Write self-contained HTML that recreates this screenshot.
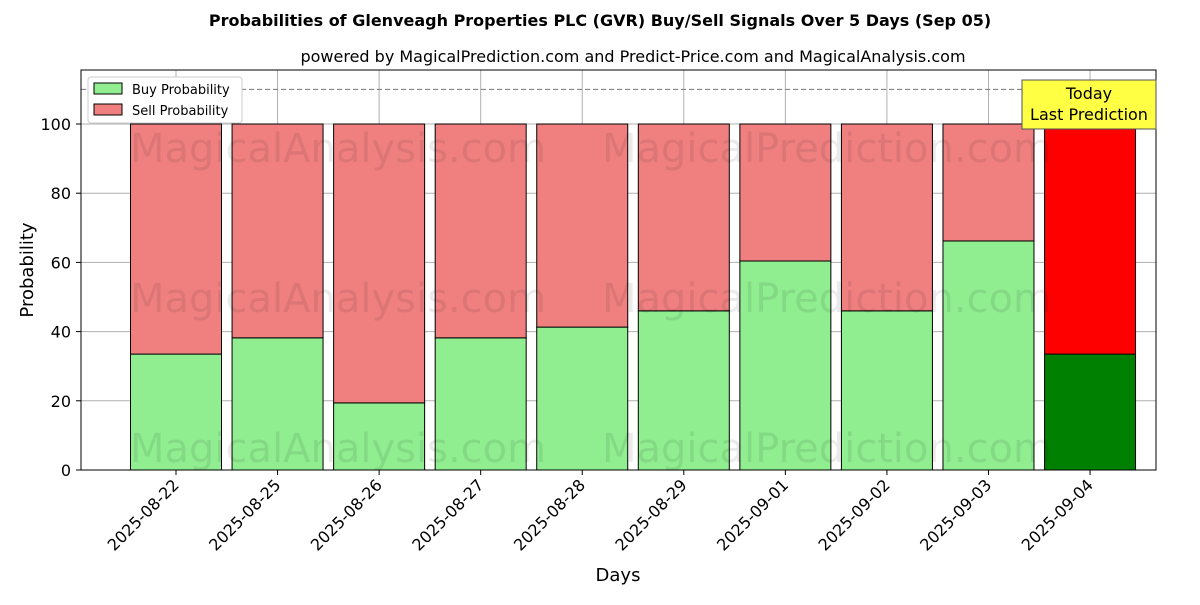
<!DOCTYPE html>
<html><head><meta charset="utf-8"><style>
body{margin:0;background:#fff;}
svg{font-family:"DejaVu Sans","Liberation Sans",sans-serif;}
</style></head><body>
<svg id="chart" width="1200" height="600">
<text x="600" y="26" text-anchor="middle" font-weight="bold" font-size="16">Probabilities of Glenveagh Properties PLC (GVR) Buy/Sell Signals Over 5 Days (Sep 05)</text>
<text x="633" y="62" text-anchor="middle" font-size="16">powered by MagicalPrediction.com and Predict-Price.com and MagicalAnalysis.com</text>
<g id="grid"></g>
<g id="bars"></g>
<g id="wm" fill="#000" opacity="0.08" font-size="40">
<text x="130" y="162">MagicalAnalysis.com</text><text x="602" y="162">MagicalPrediction.com</text>
<text x="130" y="312">MagicalAnalysis.com</text><text x="602" y="312">MagicalPrediction.com</text>
<text x="130" y="462">MagicalAnalysis.com</text><text x="602" y="462">MagicalPrediction.com</text>
</g>
<line x1="81" x2="1156" y1="89.4" y2="89.4" stroke="#777" stroke-dasharray="5,3"/>
<rect x="81" y="70" width="1075" height="400" fill="none" stroke="#000"/>
<g id="axes"></g>
<text x="33" y="270" transform="rotate(-90 33 270)" text-anchor="middle" font-size="18">Probability</text>
<text x="618" y="581" text-anchor="middle" font-size="18">Days</text>
<g>
<rect x="88" y="77" width="154" height="46" fill="#fff" stroke="#ccc" rx="3"/>
<rect x="94" y="83" width="28" height="11" fill="#90ee90" stroke="#000"/>
<text x="132" y="94" font-size="13">Buy Probability</text>
<rect x="94" y="104" width="28" height="11" fill="#f08080" stroke="#000"/>
<text x="132" y="115" font-size="13">Sell Probability</text>
</g>
<g>
<rect x="1022" y="80" width="134" height="49" fill="#ffff44" stroke="#555"/>
<text x="1089" y="99" text-anchor="middle" font-size="16">Today</text>
<text x="1089" y="120" text-anchor="middle" font-size="16">Last Prediction</text>
</g>
</svg>
<script>
const categories=["2025-08-22","2025-08-25","2025-08-26","2025-08-27","2025-08-28","2025-08-29","2025-09-01","2025-09-02","2025-09-03","2025-09-04"];
const buyValues=[33.5,38.2,19.4,38.2,41.3,46,60.4,46,66.2,33.5];
const sellValues=[66.5,61.8,80.6,61.8,58.7,54,39.6,54,33.8,66.5];
const yTicks=[0,20,40,60,80,100];
const NS="http://www.w3.org/2000/svg";
const x=i=>176+i*101.56;
const y=v=>470-v*3.46;
const bw=91;
function mk(tag,attrs,parent){const e=document.createElementNS(NS,tag);for(const k in attrs)e.setAttribute(k,attrs[k]);parent.appendChild(e);return e;}
const grid=document.getElementById('grid'),bars=document.getElementById('bars'),axes=document.getElementById('axes');
yTicks.forEach(t=>{
 const l=mk('line',{x1:81,x2:1156,y1:y(t),y2:y(t),stroke:'#b0b0b0'},grid);
 
 
 mk('line',{x1:76,x2:81,y1:y(t),y2:y(t),stroke:'#000'},axes);
 const tx=mk('text',{x:71,y:y(t)+6,'text-anchor':'end','font-size':16},axes);
 tx.textContent=t;
 
 
});
categories.forEach((c,i)=>{
 const gl=mk('line',{x1:x(i),x2:x(i),y1:70,y2:470,stroke:'#b0b0b0'},grid);
 
 
 const last=i===categories.length-1;
 const b=mk('rect',{x:x(i)-bw/2,y:y(buyValues[i]),width:bw,height:buyValues[i]*3.46,fill:last?'#008000':'#90ee90',stroke:'#000'},bars);
 
 
 const s=mk('rect',{x:x(i)-bw/2,y:y(buyValues[i]+sellValues[i]),width:bw,height:sellValues[i]*3.46,fill:last?'#ff0000':'#f08080',stroke:'#000'},bars);
 
 
 mk('line',{x1:x(i),x2:x(i),y1:470,y2:475,stroke:'#000'},axes);
 const tx=mk('text',{x:x(i)+4,y:486,'text-anchor':'end','font-size':16,transform:`rotate(-45 ${x(i)+4} 486)`},axes);
 tx.textContent=c;
 
 
});
</script>
</body></html>
